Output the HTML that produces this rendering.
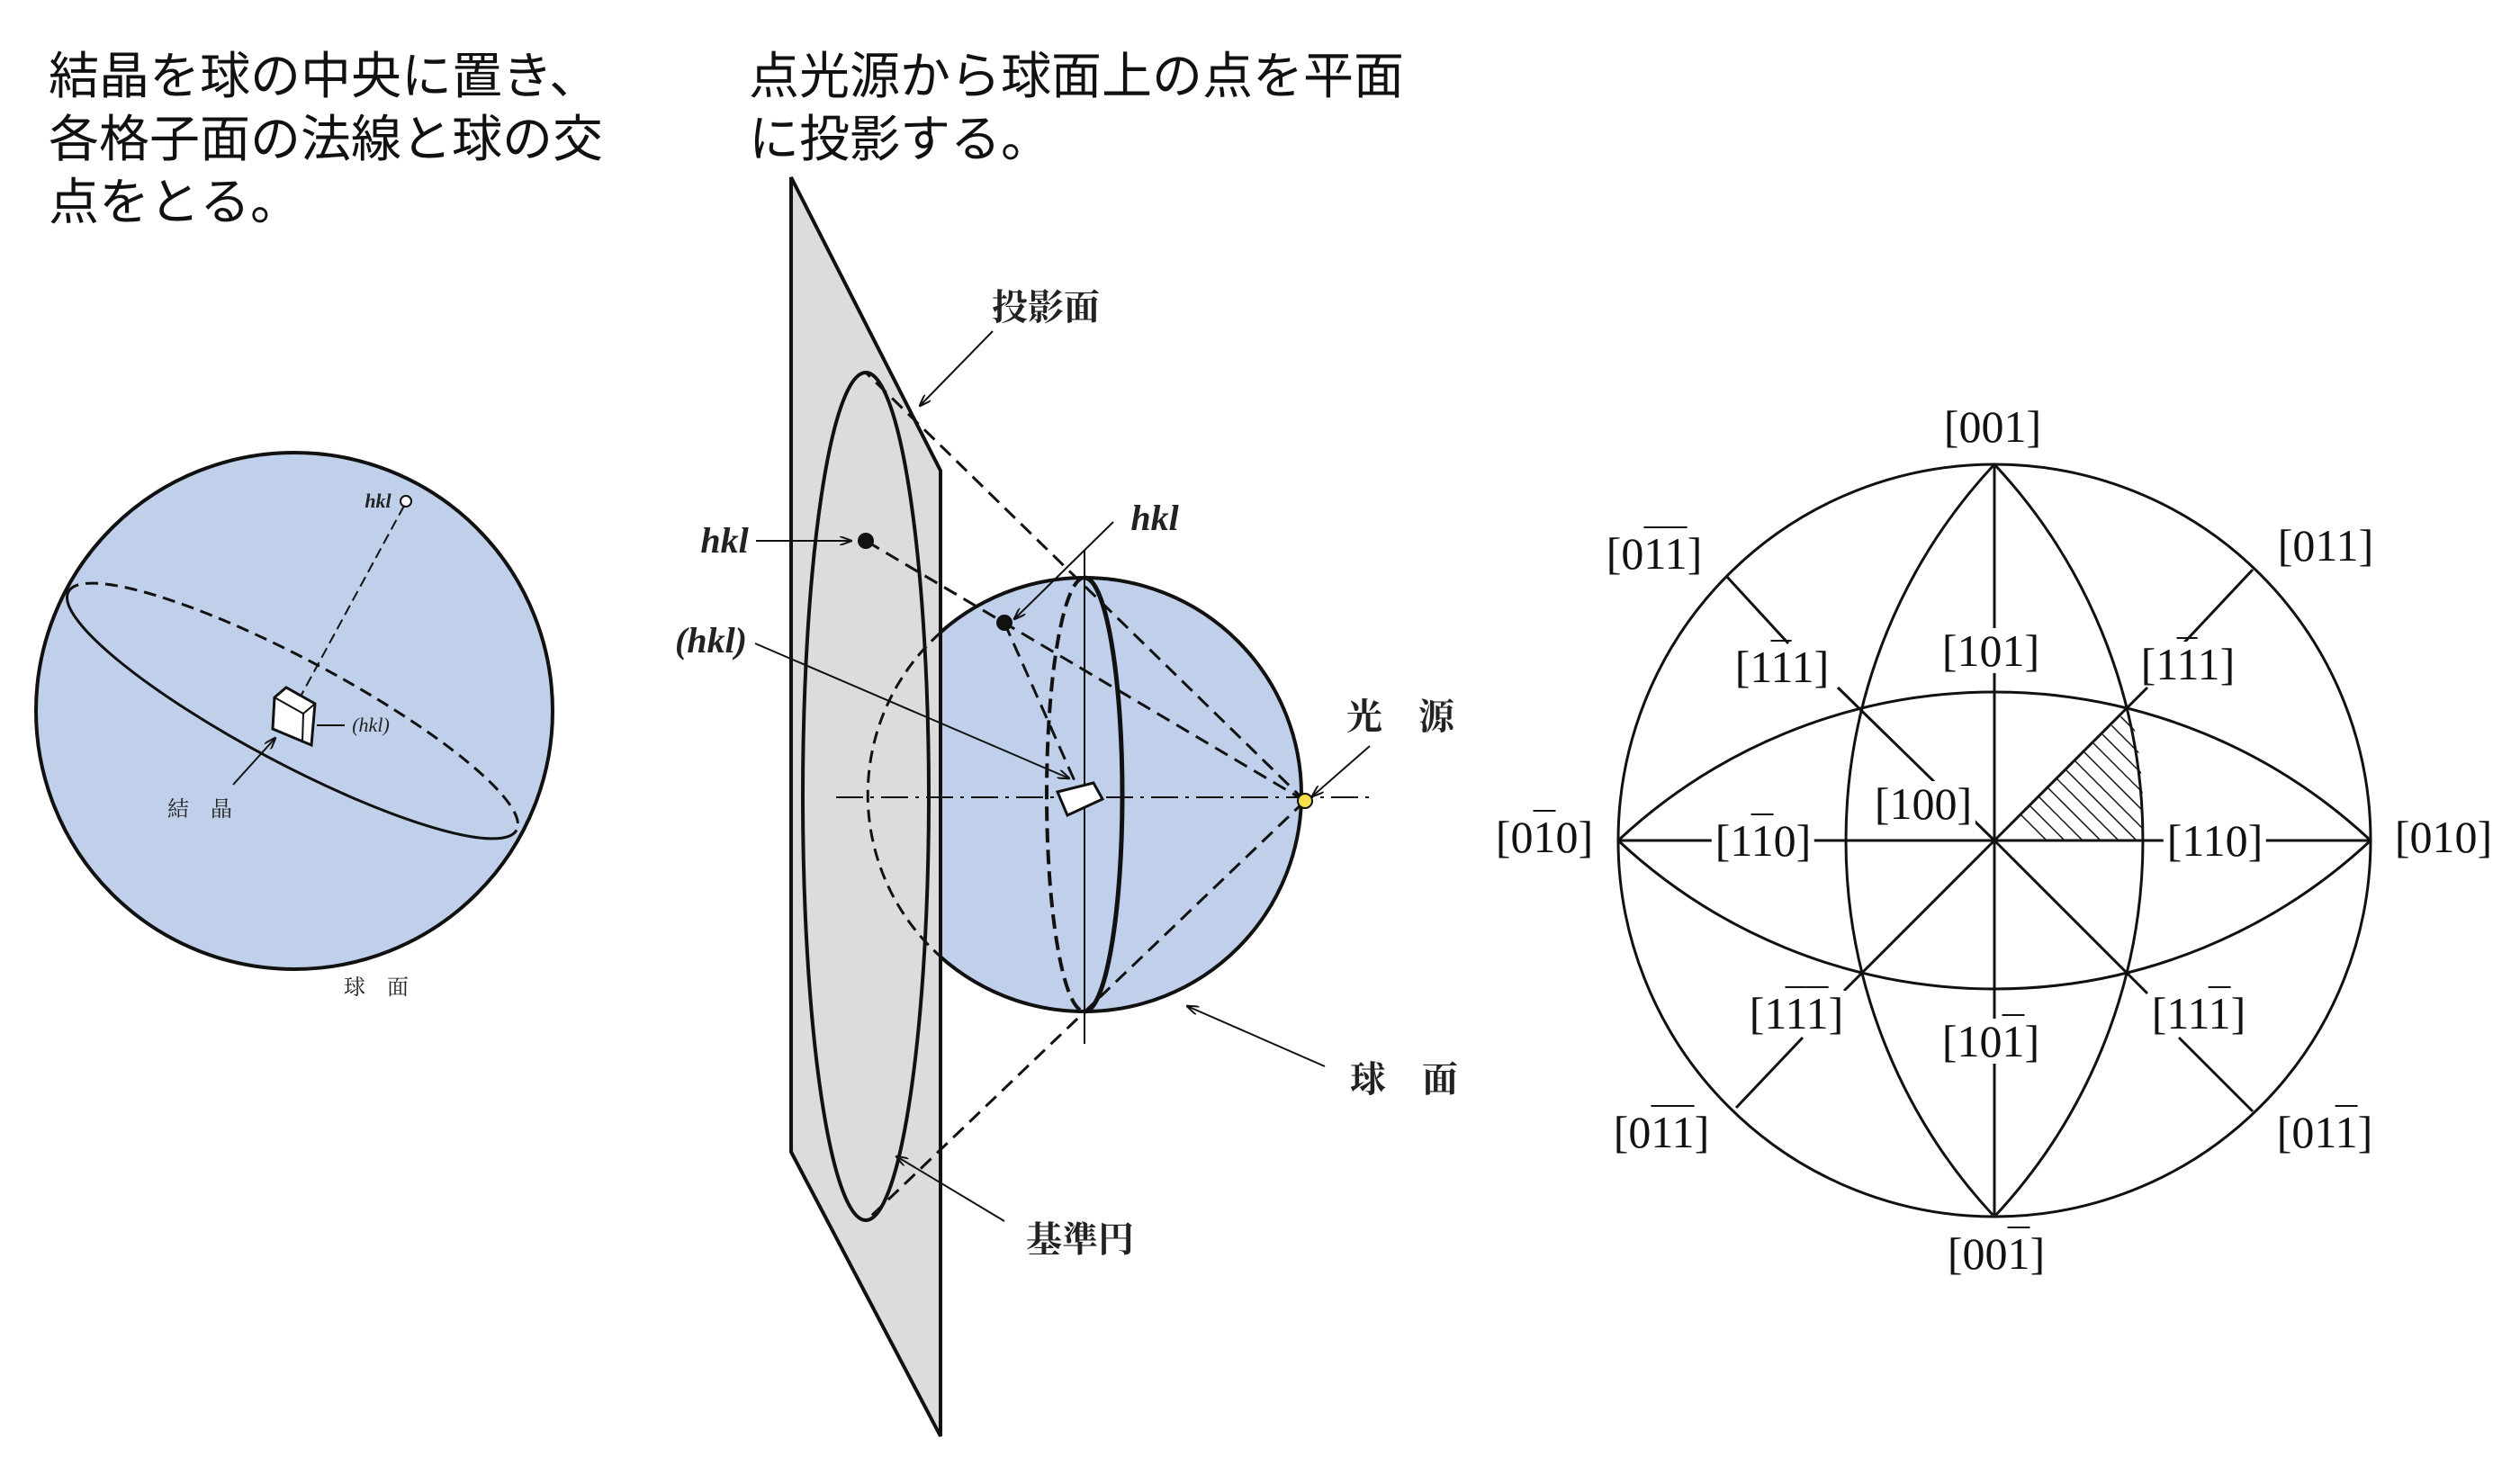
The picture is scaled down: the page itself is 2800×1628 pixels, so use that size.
<!DOCTYPE html>
<html><head><meta charset="utf-8"><style>
body{margin:0;background:#fff;}
#w{position:relative;width:2800px;height:1628px;overflow:hidden;background:#fff;}
.jp{position:absolute;font-family:"Liberation Sans","Noto Sans CJK JP",sans-serif;font-size:56px;line-height:70px;color:#111;white-space:nowrap;}
.lb{position:absolute;font-family:"Liberation Serif",serif;font-size:50px;color:#111;transform:translate(-50%,-50%);white-space:nowrap;line-height:1;}
.bg{background:#fff;padding:0 4px;}
.o{text-decoration:overline;text-decoration-thickness:2px;}
.sm{position:absolute;font-family:"Liberation Serif","Noto Serif CJK SC",serif;color:#222;white-space:nowrap;transform:translate(-50%,-50%);line-height:1;}
</style></head><body><div id="w">
<svg width="2800" height="1628" style="position:absolute;left:0;top:0">
<defs>
<marker id="ar" markerWidth="14" markerHeight="10" refX="13" refY="5" orient="auto" markerUnits="userSpaceOnUse"><path d="M0,0 L14,5 L0,10" fill="none" stroke="#111" stroke-width="2"/></marker>
<clipPath id="tri"><path d="M2216,934 L2366,787 Q2384,850 2381,934 Z"/></clipPath>
</defs>
<circle cx="327" cy="790" r="287" fill="#c0d0ea" stroke="#111" stroke-width="4"/>
<g transform="translate(325,790) rotate(28)">
<path d="M-282,0 A282 58 0 0 0 282,0" fill="none" stroke="#111" stroke-width="3"/>
<path d="M-282,0 A282 58 0 0 1 282,0" fill="none" stroke="#111" stroke-width="3" stroke-dasharray="14,8"/>
</g>
<line x1="449" y1="562" x2="335" y2="772" stroke="#111" stroke-width="2" stroke-dasharray="12,6"/>
<circle cx="451" cy="557" r="6" fill="#fff" stroke="#111" stroke-width="2"/>
<path d="M305,775 L318,764 L350,782 L346,828 L303,810 Z" fill="#fff" stroke="#111" stroke-width="3"/>
<line x1="305" y1="775" x2="337" y2="793" stroke="#111" stroke-width="2"/><line x1="337" y1="793" x2="350" y2="782" stroke="#111" stroke-width="2"/><line x1="337" y1="793" x2="336" y2="824" stroke="#111" stroke-width="2"/>
<line x1="352" y1="806" x2="383" y2="806" stroke="#111" stroke-width="2"/>
<line x1="259" y1="872" x2="306" y2="820" stroke="#111" stroke-width="2" marker-end="url(#ar)"/>

<circle cx="1205" cy="883" r="241" fill="#c0d0ea" stroke="#111" stroke-width="4"/>
<polygon points="879,197 1045,523 1045,1596 879,1280" fill="#dcdcdc" stroke="#111" stroke-width="4"/>
<path d="M1045,703 A241 241 0 0 0 1045,1063" fill="none" stroke="#111" stroke-width="3" stroke-dasharray="14,8"/>
<ellipse cx="962" cy="885" rx="70" ry="471" fill="none" stroke="#111" stroke-width="4"/>
<line x1="929" y1="886" x2="1526" y2="886" stroke="#111" stroke-width="2" stroke-dasharray="30,8,4,8"/>
<line x1="1205" y1="611" x2="1205" y2="1160" stroke="#111" stroke-width="2"/>
<path d="M1205,642 A42 241 0 0 1 1205,1124" fill="none" stroke="#111" stroke-width="5"/>
<path d="M1205,642 A42 241 0 0 0 1205,1124" fill="none" stroke="#111" stroke-width="4" stroke-dasharray="16,8"/>
<g stroke="#111" stroke-width="3" stroke-dasharray="16,9" fill="none">
<line x1="1450" y1="890" x2="962" y2="414"/>
<line x1="1450" y1="890" x2="962" y2="1357"/>
<line x1="1450" y1="890" x2="962" y2="601"/>
<line x1="1116" y1="692" x2="1195" y2="870"/>
</g>
<circle cx="962" cy="601" r="9" fill="#111"/>
<circle cx="1116" cy="692" r="9" fill="#111"/>
<polygon points="1175,880 1215,870 1225,888 1186,906" fill="#fff" stroke="#111" stroke-width="3"/>
<circle cx="1450" cy="890" r="8" fill="#f5e04a" stroke="#111" stroke-width="2"/>
<g stroke="#111" stroke-width="2" fill="none" marker-end="url(#ar)">
<line x1="839" y1="715" x2="1188" y2="865"/>
<line x1="840" y1="601" x2="946" y2="601"/>
<line x1="1237" y1="580" x2="1127" y2="688"/>
<line x1="1103" y1="368" x2="1022" y2="451"/>
<line x1="1116" y1="1357" x2="996" y2="1285"/>
<line x1="1522" y1="829" x2="1458" y2="885"/>
<line x1="1472" y1="1185" x2="1319" y2="1118"/>
</g>

<g stroke="#111" stroke-width="3" fill="none">
<circle cx="2216" cy="934" r="418"/>
<path d="M2216,516 A612 612 0 0 1 2216,1352"/>
<path d="M2216,516 A612 612 0 0 0 2216,1352"/>
<path d="M1798,934 A612 612 0 0 1 2634,934"/>
<path d="M1798,934 A612 612 0 0 0 2634,934"/>
<line x1="2216" y1="516" x2="2216" y2="1352"/>
<line x1="1798" y1="934" x2="2634" y2="934"/>
<line x1="2216" y1="934" x2="2042" y2="764"/>
<line x1="2216" y1="934" x2="2386" y2="764"/>
<line x1="2216" y1="934" x2="2049" y2="1101"/>
<line x1="2216" y1="934" x2="2386" y2="1104"/>
<line x1="1987" y1="715" x2="1918" y2="640"/>
<line x1="2426" y1="715" x2="2503" y2="633"/>
<line x1="2003" y1="1153" x2="1929" y2="1231"/>
<line x1="2421" y1="1153" x2="2503" y2="1235"/>
</g>
<g clip-path="url(#tri)" stroke="#111" stroke-width="1.5">
<line x1="2200" y1="700" x2="2500" y2="1000"/><line x1="2180" y1="700" x2="2480" y2="1000"/><line x1="2160" y1="700" x2="2460" y2="1000"/><line x1="2140" y1="700" x2="2440" y2="1000"/><line x1="2120" y1="700" x2="2420" y2="1000"/><line x1="2100" y1="700" x2="2400" y2="1000"/><line x1="2220" y1="700" x2="2520" y2="1000"/><line x1="2240" y1="700" x2="2540" y2="1000"/><line x1="2260" y1="700" x2="2560" y2="1000"/><line x1="2280" y1="700" x2="2580" y2="1000"/><line x1="2300" y1="700" x2="2600" y2="1000"/><line x1="2080" y1="700" x2="2380" y2="1000"/><line x1="2060" y1="700" x2="2360" y2="1000"/><line x1="2040" y1="700" x2="2340" y2="1000"/>
</g>
</svg>

<div class="jp" style="left:54px;top:50px">結晶を球の中央に置き、<br>各格子面の法線と球の交<br>点をとる。</div>
<div class="jp" style="left:832px;top:50px">点光源から球面上の点を平面<br>に投影する。</div>

<div class="sm" style="left:420px;top:557px;font-size:22px;font-style:italic;font-weight:bold">hkl</div>
<div class="sm" style="left:412px;top:806px;font-size:22px;font-style:italic">(hkl)</div>
<div class="sm" style="left:222px;top:900px;font-size:24px">結　晶</div>
<div class="sm" style="left:418px;top:1098px;font-size:24px">球　面</div>

<div class="sm" style="left:805px;top:601px;font-size:40px;font-style:italic;font-weight:bold">hkl</div>
<div class="sm" style="left:790px;top:712px;font-size:40px;font-style:italic;font-weight:bold">(hkl)</div>
<div class="sm" style="left:1283px;top:576px;font-size:40px;font-style:italic;font-weight:bold">hkl</div>
<div class="sm" style="left:1162px;top:342px;font-size:40px;font-weight:bold">投影面</div>
<div class="sm" style="left:1200px;top:1378px;font-size:40px;font-weight:bold">基準円</div>
<div class="sm" style="left:1556px;top:797px;font-size:40px;font-weight:bold">光　源</div>
<div class="sm" style="left:1560px;top:1200px;font-size:40px;font-weight:bold">球　面</div>

<div class="lb" style="left:2214px;top:474px">[001]</div>
<div class="lb" style="left:1838px;top:615px">[0<span class="o">1</span><span class="o">1</span>]</div>
<div class="lb" style="left:2584px;top:606px">[011]</div>
<div class="lb bg" style="left:1980px;top:741px">[1<span class="o">1</span>1]</div>
<div class="lb bg" style="left:2212px;top:723px">[101]</div>
<div class="lb bg" style="left:2431px;top:738px">[1<span class="o">1</span>1]</div>
<div class="lb bg" style="left:2137px;top:893px">[100]</div>
<div class="lb" style="left:1716px;top:930px">[0<span class="o">1</span>0]</div>
<div class="lb bg" style="left:1959px;top:934px">[1<span class="o">1</span>0]</div>
<div class="lb bg" style="left:2461px;top:934px">[110]</div>
<div class="lb" style="left:2715px;top:930px">[010]</div>
<div class="lb bg" style="left:1996px;top:1126px">[1<span class="o">1</span><span class="o">1</span>]</div>
<div class="lb bg" style="left:2212px;top:1157px">[10<span class="o">1</span>]</div>
<div class="lb bg" style="left:2443px;top:1126px">[11<span class="o">1</span>]</div>
<div class="lb" style="left:1846px;top:1258px">[0<span class="o">1</span><span class="o">1</span>]</div>
<div class="lb" style="left:2583px;top:1258px">[01<span class="o">1</span>]</div>
<div class="lb" style="left:2218px;top:1393px">[00<span class="o">1</span>]</div>
</div></body></html>
